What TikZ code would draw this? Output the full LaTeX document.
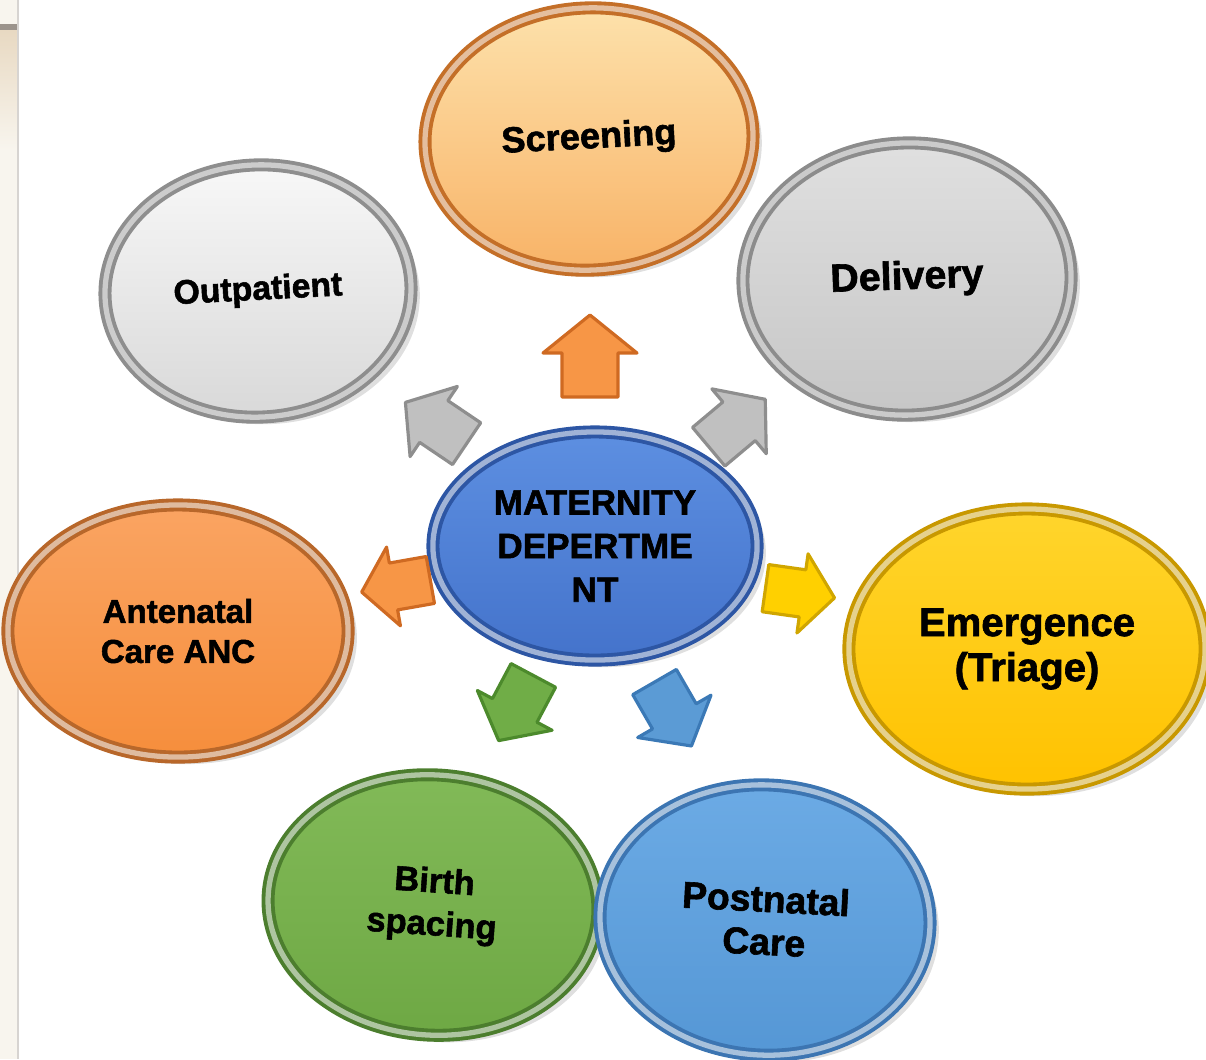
\documentclass[tikz,border=0pt]{standalone}
\usepackage{fontspec}
\setmainfont{Liberation Sans}[BoldFeatures={FakeBold=1.6}]
\usetikzlibrary{shapes.geometric,shadows}

% bubble colours
\definecolor{scrTop}{HTML}{FDE2AC}
\definecolor{scrBot}{HTML}{F8B266}
\definecolor{scrRing}{HTML}{C46F28}
\definecolor{outTop}{HTML}{F8F8F8}
\definecolor{outBot}{HTML}{D8D8D8}
\definecolor{outRing}{HTML}{8E8E8E}
\definecolor{delTop}{HTML}{E0E0E0}
\definecolor{delBot}{HTML}{C6C6C6}
\definecolor{delRing}{HTML}{8C8C8C}
\definecolor{ancTop}{HTML}{FAA462}
\definecolor{ancBot}{HTML}{F68E3C}
\definecolor{ancRing}{HTML}{B8672A}
\definecolor{emeTop}{HTML}{FFD52C}
\definecolor{emeBot}{HTML}{FFC200}
\definecolor{emeRing}{HTML}{C89800}
\definecolor{birTop}{HTML}{82BA58}
\definecolor{birBot}{HTML}{6EA844}
\definecolor{birRing}{HTML}{4C7E2E}
\definecolor{posTop}{HTML}{6CABE5}
\definecolor{posBot}{HTML}{5597D5}
\definecolor{posRing}{HTML}{3C75B2}
\definecolor{depTop}{HTML}{5D8FE1}
\definecolor{depBot}{HTML}{4473CB}
\definecolor{depRing}{HTML}{2D56A4}
% arrow colours
\definecolor{arrOrange}{HTML}{F79646}
\definecolor{arrOrangeEdge}{HTML}{CF6A22}
\definecolor{arrGray}{HTML}{C0C0C0}
\definecolor{arrGrayEdge}{HTML}{8E8E8E}
\definecolor{arrYellow}{HTML}{FFD000}
\definecolor{arrYellowEdge}{HTML}{D0A600}
\definecolor{arrGreen}{HTML}{70AD47}
\definecolor{arrGreenEdge}{HTML}{4C8A2C}
\definecolor{arrBlue}{HTML}{5B9BD5}
\definecolor{arrBlueEdge}{HTML}{3B79B6}
% photo strip
\definecolor{stripLight}{HTML}{F8F5EE}
\definecolor{stripBeige}{HTML}{E8D9C2}
\definecolor{stripLine}{HTML}{9C948C}

\tikzset{
    pics/blockarrow/.style={code={
        \draw[pic actions] (-41,-28) -- (3,-28) -- (3,-47) -- (41,0)
            -- (3,47) -- (3,28) -- (-41,28) -- cycle;
    }}
}

\begin{document}
\begin{tikzpicture}[
    x=0.01cm, y=-0.01cm,
    every node/.style={color=black},
    bubble/.style={ellipse, inner sep=0pt, align=center, line width=1.1pt,
        double distance=1.5pt, draw=#1, double=#1!45!white,
        drop shadow={opacity=0.25, shadow xshift=2.5pt, shadow yshift=-2pt}},
    arrow/.style={line width=0.9pt, line join=round}
    ]
    \useasboundingbox (0,0) rectangle (1206,1059);
    % photo strip at the left
    \fill[stripLight] (0,0) rectangle (18,1059);
    \shade[top color=stripBeige, bottom color=stripLight] (0,30) rectangle (18,150);
    \fill[stripLine] (0,24) rectangle (18,30);
    \draw[stripLine!40, line width=0.3pt] (18,0) -- (18,1059);

    % centre
    \node[bubble=depRing, top color=depTop, bottom color=depBot,
        minimum width=3.24cm, minimum height=2.28cm,
        font=\bfseries\fontsize{10}{12.4}\selectfont]
        (dept) at (595,546) {MATERNITY\\DEPERTME\\NT};

    % surrounding services
    \node[bubble=scrRing, top color=scrTop, bottom color=scrBot,
        minimum width=3.28cm, minimum height=2.62cm, rotate=3,
        font=\bfseries\fontsize{10.3}{12.6}\selectfont]
        (screen) at (589,139) {Screening};
    \node[bubble=delRing, top color=delTop, bottom color=delBot,
        minimum width=3.28cm, minimum height=2.72cm, rotate=2,
        font=\bfseries\fontsize{11.2}{13.6}\selectfont]
        (deliv) at (907,279) {Delivery};
    \node[bubble=outRing, top color=outTop, bottom color=outBot,
        minimum width=3.06cm, minimum height=2.52cm, rotate=3,
        font=\bfseries\fontsize{9.6}{11.8}\selectfont]
        (outpat) at (258,291) {Outpatient};
    \node[bubble=ancRing, top color=ancTop, bottom color=ancBot,
        minimum width=3.40cm, minimum height=2.52cm,
        font=\bfseries\fontsize{9.4}{11.4}\selectfont]
        (anc) at (178,631) {Antenatal\\Care ANC};
    \node[bubble=emeRing, top color=emeTop, bottom color=emeBot,
        minimum width=3.56cm, minimum height=2.80cm,
        font=\bfseries\fontsize{11.4}{12.8}\selectfont]
        (emerg) at (1027,649) {Emergence\\(Triage)};
    \node[bubble=birRing, top color=birTop, bottom color=birBot,
        minimum width=3.30cm, minimum height=2.60cm, rotate=-4,
        font=\bfseries\fontsize{9.8}{12.2}\selectfont]
        (birth) at (433,905) {Birth\\spacing};
    \node[bubble=posRing, top color=posTop, bottom color=posBot,
        minimum width=3.30cm, minimum height=2.70cm, rotate=-3,
        font=\bfseries\fontsize{10.6}{12.2}\selectfont]
        (postn) at (765,920) {Postnatal\\Care};

    % block arrows out of the centre
    \pic[arrow, fill=arrOrange, draw=arrOrangeEdge, rotate=90] (toscreen) at (590,356) {blockarrow};
    \pic[arrow, fill=arrGray, draw=arrGrayEdge, rotate=146, scale=0.9] (tooutpat) at (436,423) {blockarrow};
    \pic[arrow, fill=arrGray, draw=arrGrayEdge, rotate=40, scale=0.9] (todeliv) at (737,423) {blockarrow};
    \pic[arrow, fill=arrOrange, draw=arrOrangeEdge, rotate=190, scale=0.85] (toanc) at (396,586) {blockarrow};
    \pic[arrow, fill=arrYellow, draw=arrYellowEdge, rotate=-8, scale=0.85] (toemerg) at (800,593) {blockarrow};
    \pic[arrow, fill=arrGreen, draw=arrGreenEdge, rotate=242, scale=0.9] (tobirth) at (516,708) {blockarrow};
    \pic[arrow, fill=arrBlue, draw=arrBlueEdge, rotate=-60, scale=0.9] (topostn) at (673,714) {blockarrow};
\end{tikzpicture}
\end{document}
